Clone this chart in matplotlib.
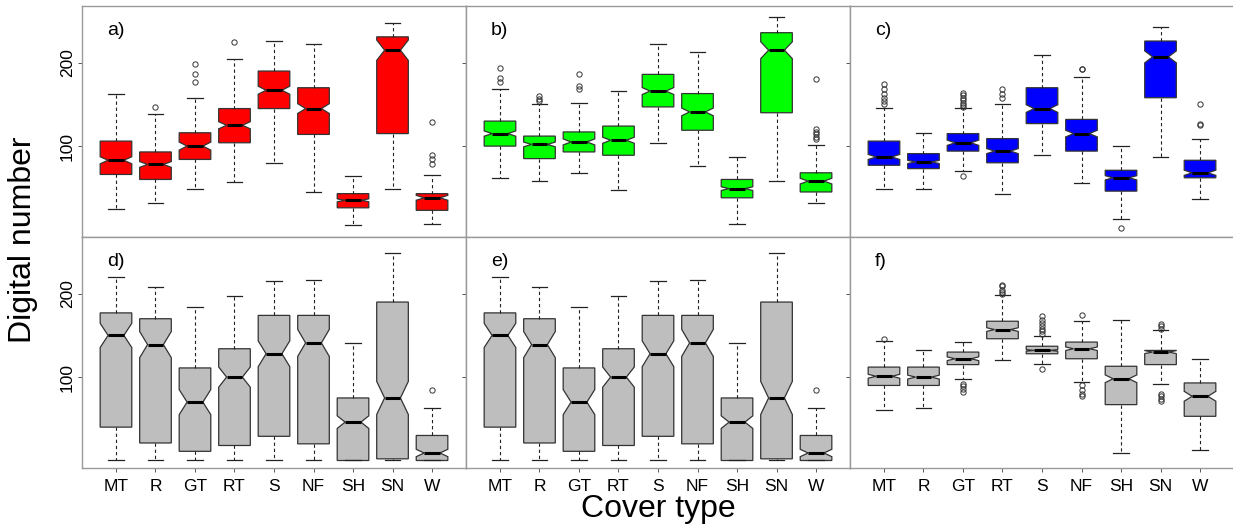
import numpy as np
import matplotlib.pyplot as plt

plt.rcParams['font.family'] = ['Liberation Sans', 'DejaVu Sans']

cover = ['MT', 'R', 'GT', 'RT', 'S', 'NF', 'SH', 'SN', 'W']
# pixels per cover type, guessed from the notch sizes
n_pix = [222, 225, 110, 228, 218, 226, 245, 225, 114]

# a) red band
a_lo = [25, 32, 49, 57, 80, 45, 5, 49, 7]
a_q1 = [66, 60, 84, 104, 145, 114, 26, 115, 23]
a_med = [83, 78, 100, 125, 167, 145, 35, 215, 38]
a_q3 = [106, 93, 116, 145, 190, 170, 43, 231, 43]
a_hi = [162, 138, 158, 204, 226, 223, 64, 248, 65]
a_out = [[], [147], [177, 187, 198], [225], [], [], [], [], [78, 84, 89, 129]]

# b) green band
b_lo = [62, 58, 68, 47, 104, 76, 6, 58, 32]
b_q1 = [100, 85, 93, 89, 147, 119, 38, 140, 45]
b_med = [115, 102, 105, 107, 166, 141, 49, 215, 58]
b_q3 = [130, 112, 117, 124, 186, 163, 60, 236, 68]
b_hi = [168, 151, 152, 166, 223, 213, 87, 255, 101]
b_out = [[177, 182, 194], [154, 157, 160], [168, 172, 187], [], [], [], [], [],
         [108, 111, 114, 117, 120, 181]]

# c) blue band
c_lo = [49, 49, 70, 43, 89, 56, 12, 87, 36]
c_q1 = [77, 73, 94, 80, 127, 94, 46, 158, 62]
c_med = [87, 81, 104, 94, 145, 115, 62, 207, 68]
c_q3 = [106, 91, 115, 109, 170, 132, 71, 226, 83]
c_hi = [146, 116, 146, 150, 209, 183, 100, 243, 109]
c_out = [[151, 154, 158, 163, 168, 174], [],
         [64, 147, 149, 152, 155, 158, 161, 164], [158, 163, 168], [],
         [192, 193], [2], [], [125, 126, 151]]

# d) and e) grey
d_lo = [0, 0, 0, 0, 0, 0, 0, 0, 0]
d_q1 = [40, 21, 11, 18, 29, 20, 0, 2, 0]
d_med = [150, 139, 70, 100, 128, 141, 46, 75, 9]
d_q3 = [177, 170, 111, 134, 174, 174, 75, 190, 30]
d_hi = [220, 208, 184, 197, 215, 216, 141, 249, 63]
d_out = [[], [], [], [], [], [], [], [], [85]]

e_lo, e_q1, e_med, e_q3, e_hi, e_out = d_lo, d_q1, d_med, d_q3, d_hi, d_out

# f) grey
f_lo = [60, 63, 98, 121, 116, 94, 9, 92, 13]
f_q1 = [90, 90, 115, 146, 128, 122, 67, 115, 53]
f_med = [101, 100, 122, 157, 132, 134, 98, 130, 77]
f_q3 = [112, 112, 130, 167, 137, 142, 113, 132, 93]
f_hi = [143, 132, 142, 198, 149, 167, 168, 157, 122]
f_out = [[146], [], [82, 86, 89, 92],
         [200, 202, 205, 209, 211], [110, 152, 155, 158, 161, 165, 169, 173],
         [77, 80, 85, 91, 175], [], [71, 74, 77, 80, 158, 161, 164], []]

panels = [
    ('a)', '#FF0000', a_lo, a_q1, a_med, a_q3, a_hi, a_out),
    ('b)', '#00FF00', b_lo, b_q1, b_med, b_q3, b_hi, b_out),
    ('c)', '#0000FF', c_lo, c_q1, c_med, c_q3, c_hi, c_out),
    ('d)', '#BEBEBE', d_lo, d_q1, d_med, d_q3, d_hi, d_out),
    ('e)', '#BEBEBE', e_lo, e_q1, e_med, e_q3, e_hi, e_out),
    ('f)', '#BEBEBE', f_lo, f_q1, f_med, f_q3, f_hi, f_out),
]

W, H = 1233, 531
fig = plt.figure(figsize=(W / 100, H / 100), dpi=100)

x0, pw = 82, 384
rows_top = [6, 237]
ph = 231

for i, (lab, col, lo, q1, med, q3, hi, out) in enumerate(panels):
    r, c = divmod(i, 3)
    ax = fig.add_axes([(x0 + c * pw) / W, 1 - (rows_top[r] + ph) / H, pw / W, ph / H])

    stats = []
    for k in range(len(cover)):
        half = 1.58 * (q3[k] - q1[k]) / np.sqrt(n_pix[k])
        stats.append(dict(med=med[k], q1=q1[k], q3=q3[k],
                          whislo=lo[k], whishi=hi[k], fliers=out[k],
                          cilo=max(med[k] - half, q1[k]),
                          cihi=min(med[k] + half, q3[k])))

    ax.bxp(stats, positions=np.arange(1, 10), widths=0.8, capwidths=0.4,
           shownotches=True, patch_artist=True,
           boxprops=dict(facecolor=col, edgecolor='#333333', linewidth=0.9),
           medianprops=dict(color='black', linewidth=2.2, solid_capstyle='butt'),
           whiskerprops=dict(color='#222222', linewidth=0.8, linestyle=(0, (3, 2.5))),
           capprops=dict(color='#222222', linewidth=0.9),
           flierprops=dict(marker='o', markersize=3.8, markerfacecolor='none',
                           markeredgecolor='#333333', markeredgewidth=0.7))

    ax.set_xlim(0.14, 9.86)
    ax.set_ylim(-9, 268)
    ax.set_yticks([100, 200])
    ax.set_xticks(np.arange(1, 10))
    ax.tick_params(direction='out', length=3, width=0.7, color='#555555',
                   labelsize=12.5)
    ax.tick_params(axis='x', pad=5)
    ax.tick_params(axis='y', pad=2)
    if r == 1:
        ax.set_xticklabels(cover)
    else:
        ax.set_xticklabels([])
    if c == 0:
        ax.set_yticklabels(['100', '200'], rotation=90, va='center')
    else:
        ax.set_yticklabels([])
    for s in ax.spines.values():
        s.set_color('#999999')
        s.set_linewidth(1.0)
    if c == 2:
        ax.spines['right'].set_visible(False)
    ax.text(0.065, 0.895, lab, transform=ax.transAxes, fontsize=14,
            ha='left', va='center')

fig.text(23 / W, 1 - 240 / H, 'Digital number', rotation=90, fontsize=23,
         ha='center', va='center')
fig.text(658 / W, 1 - 509 / H, 'Cover type', fontsize=23,
         ha='center', va='center')

fig.savefig('out.png', dpi=100)
